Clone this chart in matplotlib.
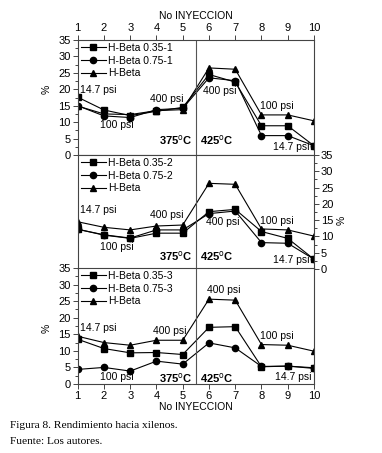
import matplotlib
matplotlib.use('Agg')
import matplotlib.pyplot as plt
from matplotlib.ticker import MultipleLocator

plt.rcParams['font.family'] = ['Liberation Sans', 'DejaVu Sans']
plt.rcParams['font.size'] = 7.5

# No INYECCION
inyeccion = [1, 2, 3, 4, 5, 6, 7, 8, 9, 10]

# panel 1
sq1 = [17.6, 13.7, 12.0, 13.3, 14.5, 24.5, 22.2, 8.9, 8.9, 2.8]
ci1 = [15.0, 11.9, 11.4, 13.8, 14.2, 23.5, 22.6, 5.9, 5.9, 2.8]
tr1 = [14.9, 12.5, 12.3, 13.5, 13.8, 26.5, 26.1, 12.2, 12.2, 10.4]
# panel 2
sq2 = [12.2, 10.4, 9.4, 11.0, 11.0, 17.6, 18.3, 11.5, 9.4, 3.0]
ci2 = [12.2, 10.5, 9.5, 12.0, 12.0, 17.0, 17.8, 8.1, 7.9, 3.0]
tr2 = [14.5, 12.8, 12.0, 13.2, 13.5, 26.3, 26.0, 12.3, 12.0, 10.1]
# panel 3
sq3 = [13.5, 10.7, 9.4, 9.5, 8.9, 17.1, 17.3, 5.2, 5.4, 4.7]
ci3 = [4.4, 5.0, 3.9, 6.9, 6.0, 12.4, 10.9, 5.3, 5.4, 4.9]
tr3 = [14.4, 12.5, 11.7, 13.2, 13.2, 25.6, 25.3, 11.9, 11.7, 9.9]

labels1 = ['H-Beta 0.35-1', 'H-Beta 0.75-1', 'H-Beta']
labels2 = ['H-Beta 0.35-2', 'H-Beta 0.75-2', 'H-Beta']
labels3 = ['H-Beta 0.35-3', 'H-Beta 0.75-3', 'H-Beta']

# (text, x, y, ha) annotations per panel
notes1 = [('14.7 psi', 1.09, 19.8, 'left'), ('100 psi', 2.5, 9.1, 'center'),
          ('400 psi', 4.4, 17.0, 'center'), ('400 psi', 5.78, 19.5, 'left'),
          ('100 psi', 7.94, 14.9, 'left'), ('14.7 psi', 9.81, 2.4, 'right')]
notes2 = [('14.7 psi', 1.09, 18.1, 'left'), ('100 psi', 2.5, 6.8, 'center'),
          ('400 psi', 4.4, 16.6, 'center'), ('400 psi', 5.89, 14.5, 'left'),
          ('100 psi', 7.94, 14.7, 'left'), ('14.7 psi', 9.81, 2.8, 'right')]
notes3 = [('14.7 psi', 1.09, 16.8, 'left'), ('100 psi', 2.5, 2.2, 'center'),
          ('400 psi', 4.5, 15.9, 'center'), ('400 psi', 5.93, 28.5, 'left'),
          ('100 psi', 7.94, 14.4, 'left'), ('14.7 psi', 9.9, 2.2, 'right')]
temp_y = [4.6, 3.9, 1.8]

W, H = 382, 453
fig = plt.figure(figsize=(W / 100, H / 100), dpi=100)
left, right = 77.7 / W, 314 / W
bounds = [(40, 155), (155, 269), (268, 384)]

panels = [(sq1, ci1, tr1, labels1, notes1), (sq2, ci2, tr2, labels2, notes2),
          (sq3, ci3, tr3, labels3, notes3)]
label_pos = [20 / 35, 15 / 35, 16.8 / 35]

for i, (sq, ci, tr, labs, notes) in enumerate(panels):
    top, bot = bounds[i]
    ax = fig.add_axes([left, 1 - bot / H, right - left, (bot - top) / H])
    kw = dict(color='black', lw=0.8, markersize=4.5)
    ax.plot(inyeccion, sq, marker='s', label=labs[0], **kw)
    ax.plot(inyeccion, ci, marker='o', label=labs[1], **kw)
    ax.plot(inyeccion, tr, marker='^', label=labs[2], **kw)
    ax.axvline(5.5, color='#555555', lw=0.8)
    ax.set_xlim(1, 10)
    ax.set_ylim(0, 35)
    for s in ax.spines.values():
        s.set_linewidth(0.8)
        s.set_color('#444444')
    ax.yaxis.set_major_locator(MultipleLocator(5))
    ax.yaxis.set_minor_locator(MultipleLocator(2.5))
    ax.xaxis.set_major_locator(MultipleLocator(1))
    ax.tick_params(which='both', direction='out', width=0.7, color='#444444', pad=1.5)
    ax.tick_params(which='major', length=3.5, labelsize=8)
    ax.tick_params(which='minor', length=2)
    ax.tick_params(axis='x', bottom=False, top=False, labelbottom=False, labeltop=False)
    if i == 0:
        ax.tick_params(axis='x', top=True, labeltop=True)
        ax.xaxis.set_label_position('top')
        ax.set_xlabel('No INYECCION', labelpad=3)
    if i == 2:
        ax.tick_params(axis='x', bottom=True, labelbottom=True)
        ax.set_xlabel('No INYECCION', labelpad=1)
    if i == 1:
        ax.yaxis.tick_right()
        ax.yaxis.set_label_position('right')
        ax.set_ylabel('%', labelpad=2)
        ax.yaxis.set_label_coords(1.095, label_pos[i])
    else:
        ax.set_ylabel('%', labelpad=2)
        ax.yaxis.set_label_coords(-0.11, label_pos[i])
    ax.legend(loc='upper left', bbox_to_anchor=(0.0, 1.0), frameon=False,
              handlelength=2.4, handletextpad=0.2, labelspacing=0.25,
              borderaxespad=0.2, borderpad=0.1, fontsize=7.5)
    for txt, x, y, ha in notes:
        ax.text(x, y, txt, ha=ha, va='center', fontsize=7.5)
    ax.text(5.39, temp_y[i], '375$^{\\mathrm{o}}$C', ha='right', va='center',
            fontsize=8, fontweight='bold')
    ax.text(5.66, temp_y[i], '425$^{\\mathrm{o}}$C', ha='left', va='center',
            fontsize=8, fontweight='bold')

fig.text(10 / W, 1 - 425 / H, 'Figura 8. Rendimiento hacia xilenos.',
         family='Liberation Serif', fontsize=8.2, va='center')
fig.text(10 / W, 1 - 441 / H, 'Fuente: Los autores.',
         family='Liberation Serif', fontsize=8.2, va='center')

fig.savefig('out.png', dpi=100)
